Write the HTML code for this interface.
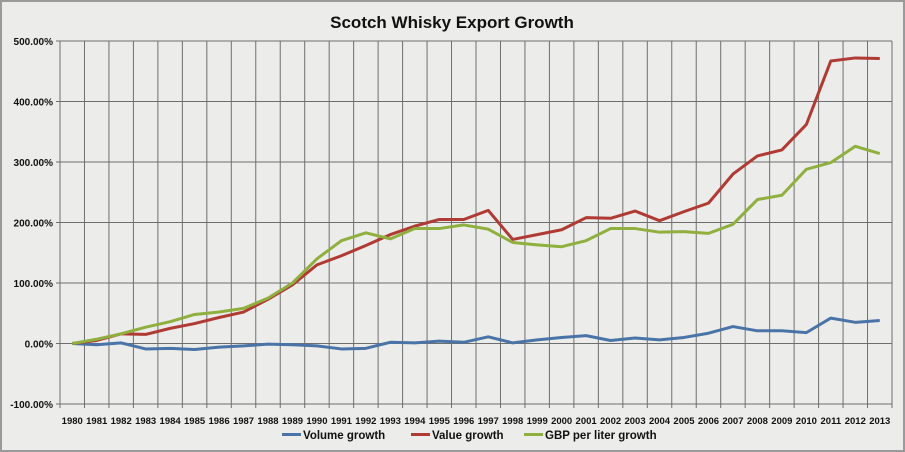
<!DOCTYPE html>
<html><head><meta charset="utf-8"><style>
body{margin:0;background:#fff}
svg{display:block;font-family:"Liberation Sans",sans-serif}
</style></head><body>
<svg id="chart" width="905" height="452">
<rect x="1" y="1" width="903" height="450" fill="#ececea" stroke="#9a9a9a" stroke-width="2"/>
<text x="452" y="28" text-anchor="middle" font-size="17" font-weight="bold" fill="#111">Scotch Whisky Export Growth</text>
<g id="grid"></g><g id="axes"></g><g id="series"></g>
<g>
<g><line x1="282" y1="434.5" x2="301" y2="434.5" stroke="#4a74a8" stroke-width="3"/><text x="303" y="439" font-size="11.5" font-weight="bold" fill="#111">Volume growth</text></g>
<g><line x1="411" y1="434.5" x2="430" y2="434.5" stroke="#b03a34" stroke-width="3"/><text x="432" y="439" font-size="11.5" font-weight="bold" fill="#111">Value growth</text></g>
<g><line x1="524" y1="434.5" x2="543" y2="434.5" stroke="#8fb03e" stroke-width="3"/><text x="545" y="439" font-size="11.5" font-weight="bold" fill="#111">GBP per liter growth</text></g>
</g>
</svg>
<script>
const years=[1980,1981,1982,1983,1984,1985,1986,1987,1988,1989,1990,1991,1992,1993,1994,1995,1996,1997,1998,1999,2000,2001,2002,2003,2004,2005,2006,2007,2008,2009,2010,2011,2012,2013];
const volumeGrowth=[0,-2,1,-9,-8,-10,-6,-4,-1,-2,-4,-9,-8,2,1,4,2,11,1,6,10,13,5,9,6,10,17,28,21,21,18,42,35,38];
const valueGrowth=[0,5,16,15,25,33,43,52,73,97,130,145,162,180,194,205,205,220,172,180,188,208,207,219,203,218,232,280,310,320,362,467,472,471];
const gbpGrowth=[0,7,16,27,36,48,52,58,75,100,140,170,183,173,190,190,196,189,167,163,160,170,190,190,184,185,182,197,238,245,288,299,326,314];
const yTicks=[-100,0,100,200,300,400,500];
const yTickLabels=["-100.00%","0.00%","100.00%","200.00%","300.00%","400.00%","500.00%"];
const L=60,R=892,T=41,B=404,ymin=-100,ymax=500;
const bw=(R-L)/years.length;
const xs=i=>L+bw*(i+0.5);
const ys=v=>B-(v-ymin)/(ymax-ymin)*(B-T);
const NS="http://www.w3.org/2000/svg";
function mk(tag,attrs,parent){const e=document.createElementNS(NS,tag);for(const k in attrs)e.setAttribute(k,attrs[k]);parent.appendChild(e);return e;}
const grid=document.getElementById('grid'),axes=document.getElementById('axes'),ser=document.getElementById('series');
yTicks.forEach((v,i)=>{
 const l=mk('line',{x1:L-4,x2:R,y1:ys(v),y2:ys(v),stroke:'#6e6e6e','stroke-width':1},grid);
 
 
 const t=mk('text',{x:L-7,y:ys(v)+4,'text-anchor':'end','font-size':10,'font-weight':'bold',fill:'#111'},axes);
 t.textContent=yTickLabels[i];
 
 
});
for(let i=0;i<=years.length;i++){
 const x=L+bw*i;
 const l=mk('line',{x1:x,x2:x,y1:T,y2:B+4,stroke:'#6e6e6e','stroke-width':1},grid);
 
 
}
years.forEach((y,i)=>{
 const t=mk('text',{x:xs(i),y:424,'text-anchor':'middle','font-size':9.5,'font-weight':'bold',fill:'#111'},axes);
 t.textContent=y;
 
 
});
const series=[[volumeGrowth,'#4a74a8','volume-growth-line'],[valueGrowth,'#b03a34','value-growth-line'],[gbpGrowth,'#8fb03e','gbp-per-liter-growth-line']];
series.forEach(([d,c,n])=>{
 const p=mk('polyline',{points:d.map((v,i)=>xs(i)+','+ys(v)).join(' '),fill:'none',stroke:c,'stroke-width':3,'stroke-linejoin':'round'},ser);
 
 
});
</script>
</body></html>
